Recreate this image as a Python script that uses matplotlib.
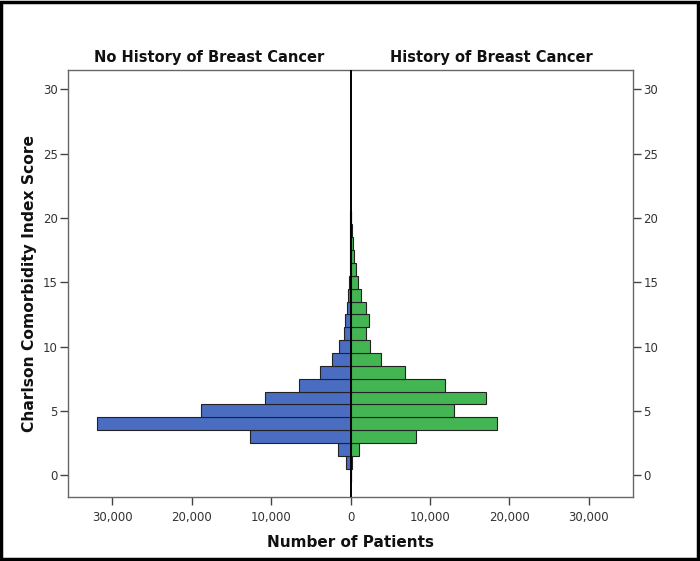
import matplotlib
matplotlib.use("Agg")
import matplotlib.pyplot as plt
from matplotlib.ticker import FuncFormatter
from matplotlib.patches import Rectangle

# Charlson Comorbidity Index score (histogram bins)
scores = list(range(0, 21))
# Number of patients, no history of breast cancer (left side)
no_history = [0, 550, 1600, 12700, 32000, 18900, 10800, 6500, 3800, 2350,
              1400, 850, 700, 500, 300, 200, 120, 80, 50, 30, 20]
# Number of patients, history of breast cancer (right side)
history = [0, 150, 1050, 8200, 18400, 13100, 17100, 11900, 6900, 3900,
           2400, 1900, 2300, 1900, 1300, 900, 650, 450, 300, 150, 80]

x_ticks = [-30000, -20000, -10000, 0, 10000, 20000, 30000]
y_ticks = [0, 5, 10, 15, 20, 25, 30]

title_left = "No History of Breast Cancer"
title_right = "History of Breast Cancer"
x_label = "Number of Patients"
y_label = "Charlson Comorbidity Index Score"

blue = "#4a6dc1"
green = "#44b553"

fig = plt.figure(figsize=(7.0, 5.61), dpi=100)
ax = fig.add_axes([68 / 700, 1 - 497 / 561, (633 - 68) / 700, (497 - 70) / 561])

ax.barh(scores, [-v for v in no_history], height=1.0, color=blue,
        edgecolor="#222222", linewidth=0.8, zorder=2)
ax.barh(scores, history, height=1.0, color=green,
        edgecolor="#222222", linewidth=0.8, zorder=2)
ax.axvline(0, color="black", lw=1.4, zorder=3)

ax.set_xlim(-35600, 35600)
ax.set_ylim(-1.7, 31.5)
ax.set_xticks(x_ticks)
ax.set_yticks(y_ticks)
ax.xaxis.set_major_formatter(FuncFormatter(lambda v, p: f"{abs(int(round(v))):,}"))

tick_color = "#333333"
ax.tick_params(axis="y", left=True, right=True, labelleft=True, labelright=True,
               direction="out", length=6, width=1, color="#444444",
               labelsize=8.5, labelcolor=tick_color, pad=1.5)
ax.tick_params(axis="x", bottom=True, top=False, direction="out", length=6,
               width=1, color="#444444", labelsize=8.5, labelcolor=tick_color, pad=4)

for s in ax.spines.values():
    s.set_color("#666666")
    s.set_linewidth(1.0)

ax.text(0.25, 1.012, title_left, transform=ax.transAxes, ha="center", va="bottom",
        fontsize=10.5, fontweight="bold", color="#111111")
ax.text(0.75, 1.012, title_right, transform=ax.transAxes, ha="center", va="bottom",
        fontsize=10.5, fontweight="bold", color="#111111")

ax.set_xlabel(x_label, fontsize=11, fontweight="bold", color="#111111", labelpad=8)
ax.set_ylabel(y_label, fontsize=11.2, fontweight="bold", color="#111111", labelpad=4)

# outer frame of the image
fig.patches.append(Rectangle((0.002, 0.003), 0.995, 0.994, transform=fig.transFigure,
                             fill=False, edgecolor="black", linewidth=2.5))

fig.savefig("out.png", dpi=100)
